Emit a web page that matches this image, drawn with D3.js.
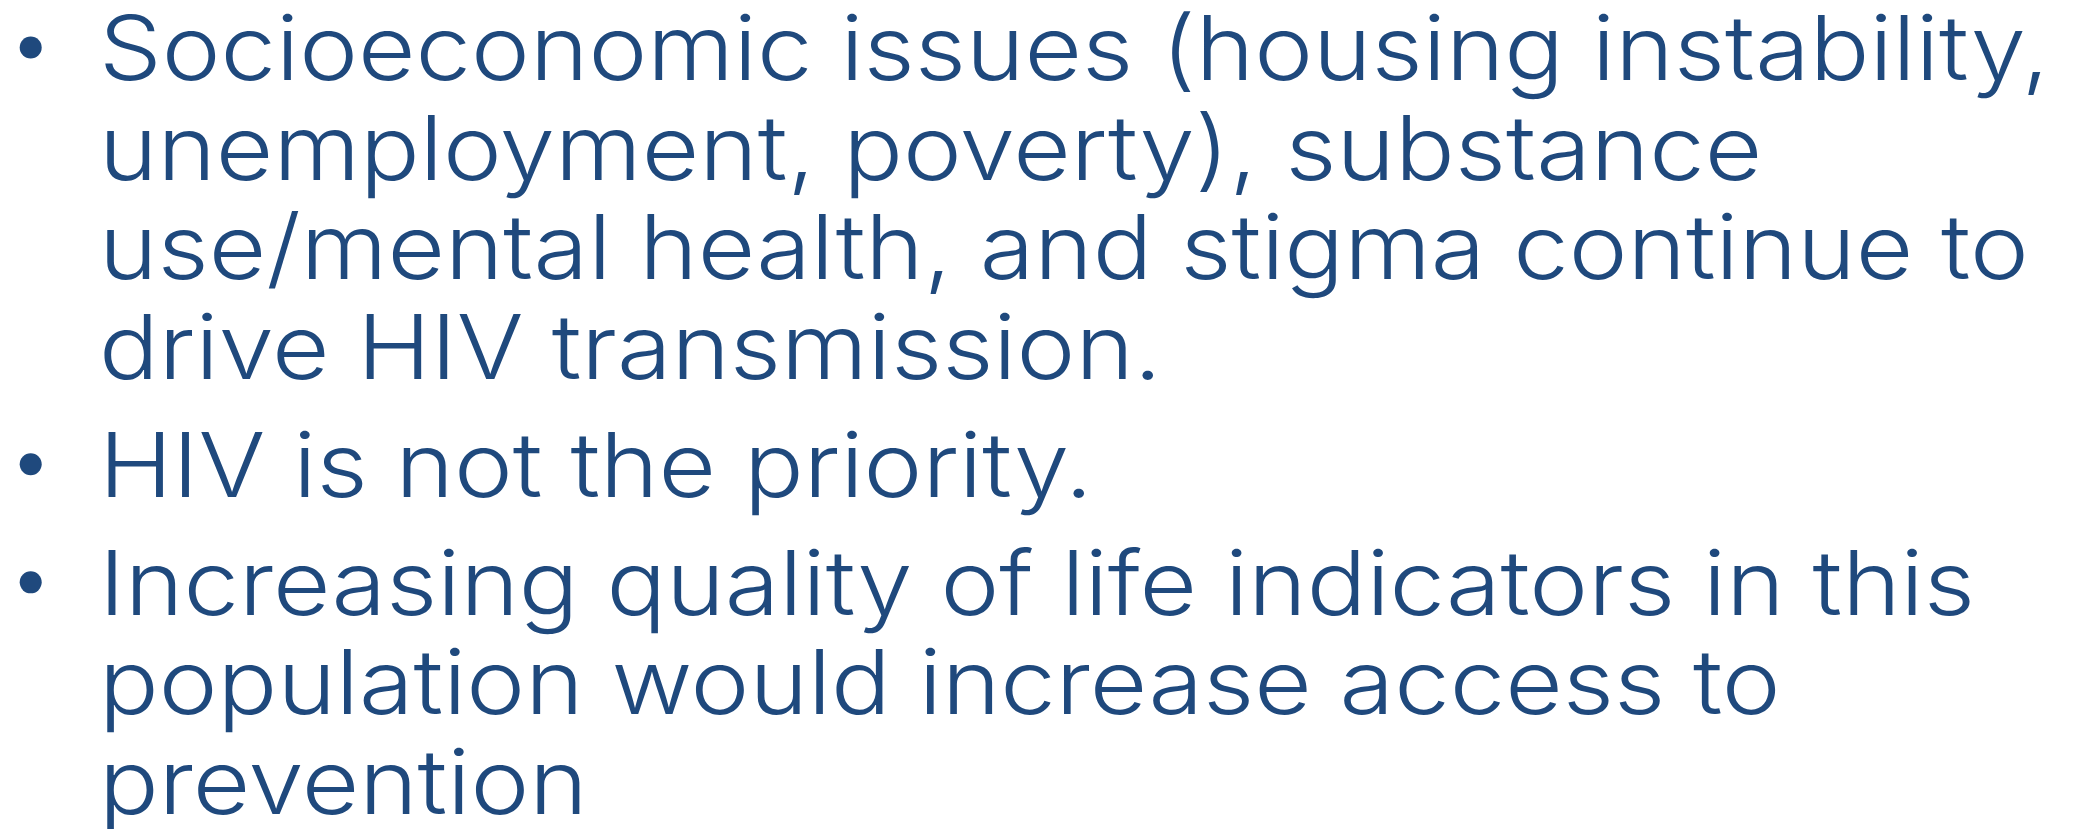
<!DOCTYPE html>
<html lang="en">
<head>
  <meta charset="UTF-8">
  <title>HIV transmission drivers</title>
  <script src="https://cdn.jsdelivr.net/npm/d3@7/dist/d3.min.js"></script>
  <style>
    html, body {
      margin: 0;
      padding: 0;
      background: #ffffff;
      overflow: hidden;
    }

    .bullet-text {
      font-family: Inter, "Open Sans", sans-serif;
      font-weight: 300;
      fill: #1f497d;
    }
  </style>
</head>
<body>

<div id="slide"></div>

<script>
  // Bullet paragraphs, already broken into lines as on the slide
  var para1 = [
    "Socioeconomic issues (housing instability,",
    "unemployment, poverty), substance",
    "use/mental health, and stigma continue to",
    "drive HIV transmission."
  ];
  var para2 = [
    "HIV is not the priority."
  ];
  var para3 = [
    "Increasing quality of life indicators in this",
    "population would increase access to",
    "prevention"
  ];
  var paragraphs = [para1, para2, para3];

  var width = 2077, height = 829;
  var colour = "#1f497d";
  var fontSize = 89;
  var paraGap = 0.185;   // extra space between bullets, in line units

  // flatten into rows with a "slot" position (line count + paragraph gaps)
  var rows = [];
  var lineNo = 0;
  paragraphs.forEach(function(p, pi) {
    p.forEach(function(t, li) {
      rows.push({text: t, para: pi, first: li === 0, slot: lineNo + pi * paraGap});
      lineNo++;
    });
  });

  var svg = d3.select("#slide").append("svg")
    .attr("width", width)
    .attr("height", height);

  // slot -> baseline
  var y = d3.scaleLinear()
    .domain([0, 1])
    .range([80, 179.6]);

  var textX = 99;

  var texts = svg.selectAll("text.bullet-text")
    .data(rows)
    .enter()
    .append("text")
    .attr("class", "bullet-text")
    .attr("x", 0)
    .attr("y", 0)
    .style("font-size", fontSize + "px")
    .text(function(d) { return d.text; });

  // the original font is a wide geometric one: stretch the glyphs sideways
  // until the widest line reaches the right side
  var rightEdge = 2050;
  var maxLen = d3.max(texts.nodes(), function(n) { return n.getComputedTextLength(); });
  var sx = (rightEdge - textX) / maxLen;
  texts.attr("transform", function(d) {
    return "translate(" + textX + "," + y(d.slot) + ") scale(" + sx + ",1)";
  });

  // bullet dots on the first line of each paragraph
  svg.selectAll("circle.dot")
    .data(rows.filter(function(d) { return d.first; }))
    .enter()
    .append("circle")
    .attr("class", "dot")
    .attr("cx", 30.7)
    .attr("cy", function(d) { return y(d.slot) - 32.5; })
    .attr("r", 11)
    .attr("fill", colour);
</script>

</body>
</html>
